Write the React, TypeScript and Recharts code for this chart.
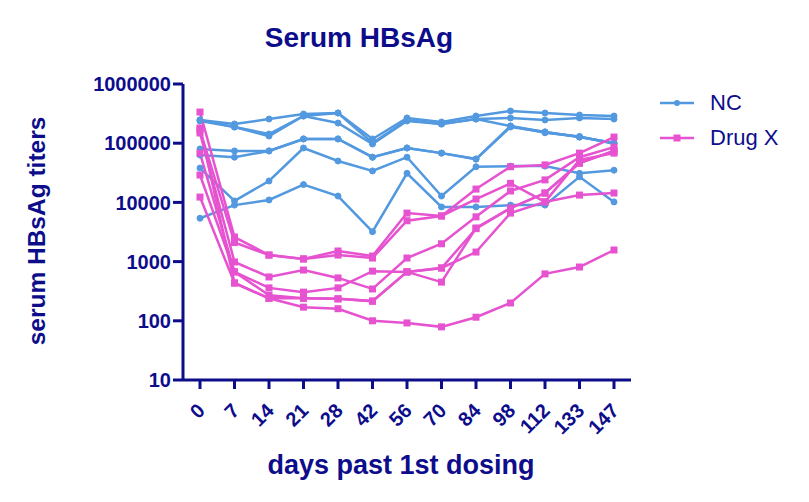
import React from "react";
import { Legend, Line, LineChart, XAxis, YAxis } from "recharts";

const days = ["0", "7", "14", "21", "28", "42", "56", "70", "84", "98", "112", "133", "147"];

// NC animals
const nc1 = [247000, 211000, 256000, 311000, 324000, 118000, 267000, 228000, 288000, 350000, 324000, 299000, 288000];
const nc2 = [247000, 188000, 143000, 288000, 324000, 101000, 247000, 211000, 256000, 267000, 247000, 267000, 256000];
const nc3 = [237000, 188000, 132000, 288000, 219000, 97000, 237000, 211000, 256000, 195000, 155000, 127000, 101000];
const nc4 = [80000, 74000, 74000, 118000, 118000, 58000, 83000, 68000, 54000, 188000, 155000, 127000, 101000];
const nc5 = [63000, 58000, 74000, 118000, 118000, 58000, 83000, 68000, 54000, 195000, 150000, 130000, 98000];
const nc6 = [38000, 10600, 23000, 83000, 50000, 34000, 58000, 12800, 40000, 41000, 41000, 31000, 35000];
const nc7 = [5400, 9000, 11000, 20000, 12800, 3200, 31000, 8400, 8400, 9000, 9000, 27000, 10200];

// Drug X animals
const dx1 = [336000, 2600, 1290, 1110, 1510, 1240, 6600, 5900, 16800, 40000, 43000, 68000, 127000];
const dx2 = [167000, 2100, 1290, 1110, 1290, 1150, 4900, 5900, 11400, 21000, 10200, 13300, 14400];
const dx3 = [149000, 985, 550, 720, 530, 345, 1150, 2000, 5700, 15600, 24000, 58000, 86000];
const dx4 = [68000, 670, 360, 305, 360, 690, 670, 450, 3700, 8000, 14400, 46000, 74000];
const dx5 = [29000, 670, 270, 240, 235, 215, 670, 780, 1450, 6600, 10200, 52000, 68000];
const dx6 = [12300, 435, 240, 170, 160, 100, 92, 79, 115, 200, 620, 810, 1570];
const dx7 = [181000, 435, 240, 240, 235, 215, 670, 780, 3600, 8000, 14400, 46000, 74000];

const yTicks = [10, 100, 1000, 10000, 100000, 1000000];

const ncSeries = { nc1, nc2, nc3, nc4, nc5, nc6, nc7 };
const dxSeries = { dx1, dx2, dx3, dx4, dx5, dx6, dx7 };

const data = days.map((day, i) => {
  const row: Record<string, string | number> = { day };
  Object.entries(ncSeries).forEach(([k, v]) => (row[k] = v[i]));
  Object.entries(dxSeries).forEach(([k, v]) => (row[k] = v[i]));
  return row;
});

const BLUE = "#5399e0";
const PINK = "#e652cf";
const NAVY = "#0d0d8c";
const FONT = "'Liberation Sans', Arial, sans-serif";

const XTick = (props: any) => {
  const { x, y, payload } = props;
  const px = x + 6;
  const py = y + 21;
  return (
    <text
      x={px}
      y={py}
      textAnchor="end"
      transform={`rotate(-45 ${px} ${py})`}
      fill={NAVY}
      fontSize={20}
      fontWeight="bold"
      fontFamily={FONT}
    >
      {payload.value}
    </text>
  );
};

const squareDot = (props: any) => {
  const { cx, cy, index, dataKey } = props;
  if (cx == null || cy == null) return <g key={`${dataKey}-${index}`} />;
  return <rect key={`${dataKey}-${index}`} x={cx - 3.5} y={cy - 3.5} width={7} height={7} fill={PINK} />;
};

const legendItems = [
  { name: "NC", color: BLUE, shape: "circle" },
  { name: "Drug X", color: PINK, shape: "square" },
];

const renderLegend = () => (
  <div>
    {legendItems.map((item) => (
      <div key={item.name} style={{ display: "flex", alignItems: "center", height: 34.5 }}>
        <svg width={40} height={20}>
          <line x1={2} y1={10} x2={36} y2={10} stroke={item.color} strokeWidth={2.5} />
          {item.shape === "circle" ? (
            <circle cx={19} cy={10} r={3} fill={item.color} />
          ) : (
            <rect x={15.5} y={6.5} width={7} height={7} fill={item.color} />
          )}
        </svg>
        <span style={{ marginLeft: 12, fontSize: 22, color: NAVY, fontFamily: FONT }}>{item.name}</span>
      </div>
    ))}
  </div>
);

export default function App() {
  return (
    <div style={{ position: "absolute", left: 0, top: 0, width: 809, height: 502, background: "#fff" }}>
      <LineChart width={809} height={502} data={data} margin={{ top: 84, right: 178, bottom: 62, left: 0 }}>
        <XAxis
          dataKey="day"
          padding={{ left: 17, right: 17 }}
          height={60}
          interval={0}
          tick={<XTick />}
          tickSize={9}
          axisLine={{ stroke: NAVY, strokeWidth: 3 }}
          tickLine={{ stroke: NAVY, strokeWidth: 3 }}
        />
        <YAxis
          type="number"
          scale="log"
          domain={[10, 1000000]}
          ticks={yTicks}
          interval={0}
          allowDataOverflow
          width={183}
          tickSize={10}
          tickFormatter={(v) => String(v)}
          tick={{ fill: NAVY, fontSize: 20, fontWeight: "bold", fontFamily: FONT }}
          axisLine={{ stroke: NAVY, strokeWidth: 3 }}
          tickLine={{ stroke: NAVY, strokeWidth: 3 }}
        />
        <Legend
          layout="vertical"
          align="center"
          verticalAlign="middle"
          content={renderLegend}
          wrapperStyle={{ left: 658, top: 86, width: 150 }}
        />
        {Object.keys(ncSeries).map((k) => (
          <Line
            key={k}
            dataKey={k}
            stroke={BLUE}
            strokeWidth={2.5}
            dot={{ r: 3, fill: BLUE, stroke: BLUE, strokeWidth: 1 }}
            activeDot={false}
            legendType="none"
            isAnimationActive={false}
          />
        ))}
        {Object.keys(dxSeries).map((k) => (
          <Line
            key={k}
            dataKey={k}
            stroke={PINK}
            strokeWidth={2.5}
            dot={squareDot}
            activeDot={false}
            legendType="none"
            isAnimationActive={false}
          />
        ))}
      </LineChart>
      <svg
        width={809}
        height={502}
        style={{ position: "absolute", left: 0, top: 0, pointerEvents: "none" }}
        fontFamily={FONT}
        fontWeight="bold"
        fill={NAVY}
      >
        <text x={359} y={47} textAnchor="middle" fontSize={28}>
          Serum HBsAg
        </text>
        <text x={401} y={474} textAnchor="middle" fontSize={27}>
          days past 1st dosing
        </text>
        <text x={45} y={231} textAnchor="middle" fontSize={24.5} transform="rotate(-90 45 231)">
          serum HBsAg titers
        </text>
      </svg>
    </div>
  );
}
